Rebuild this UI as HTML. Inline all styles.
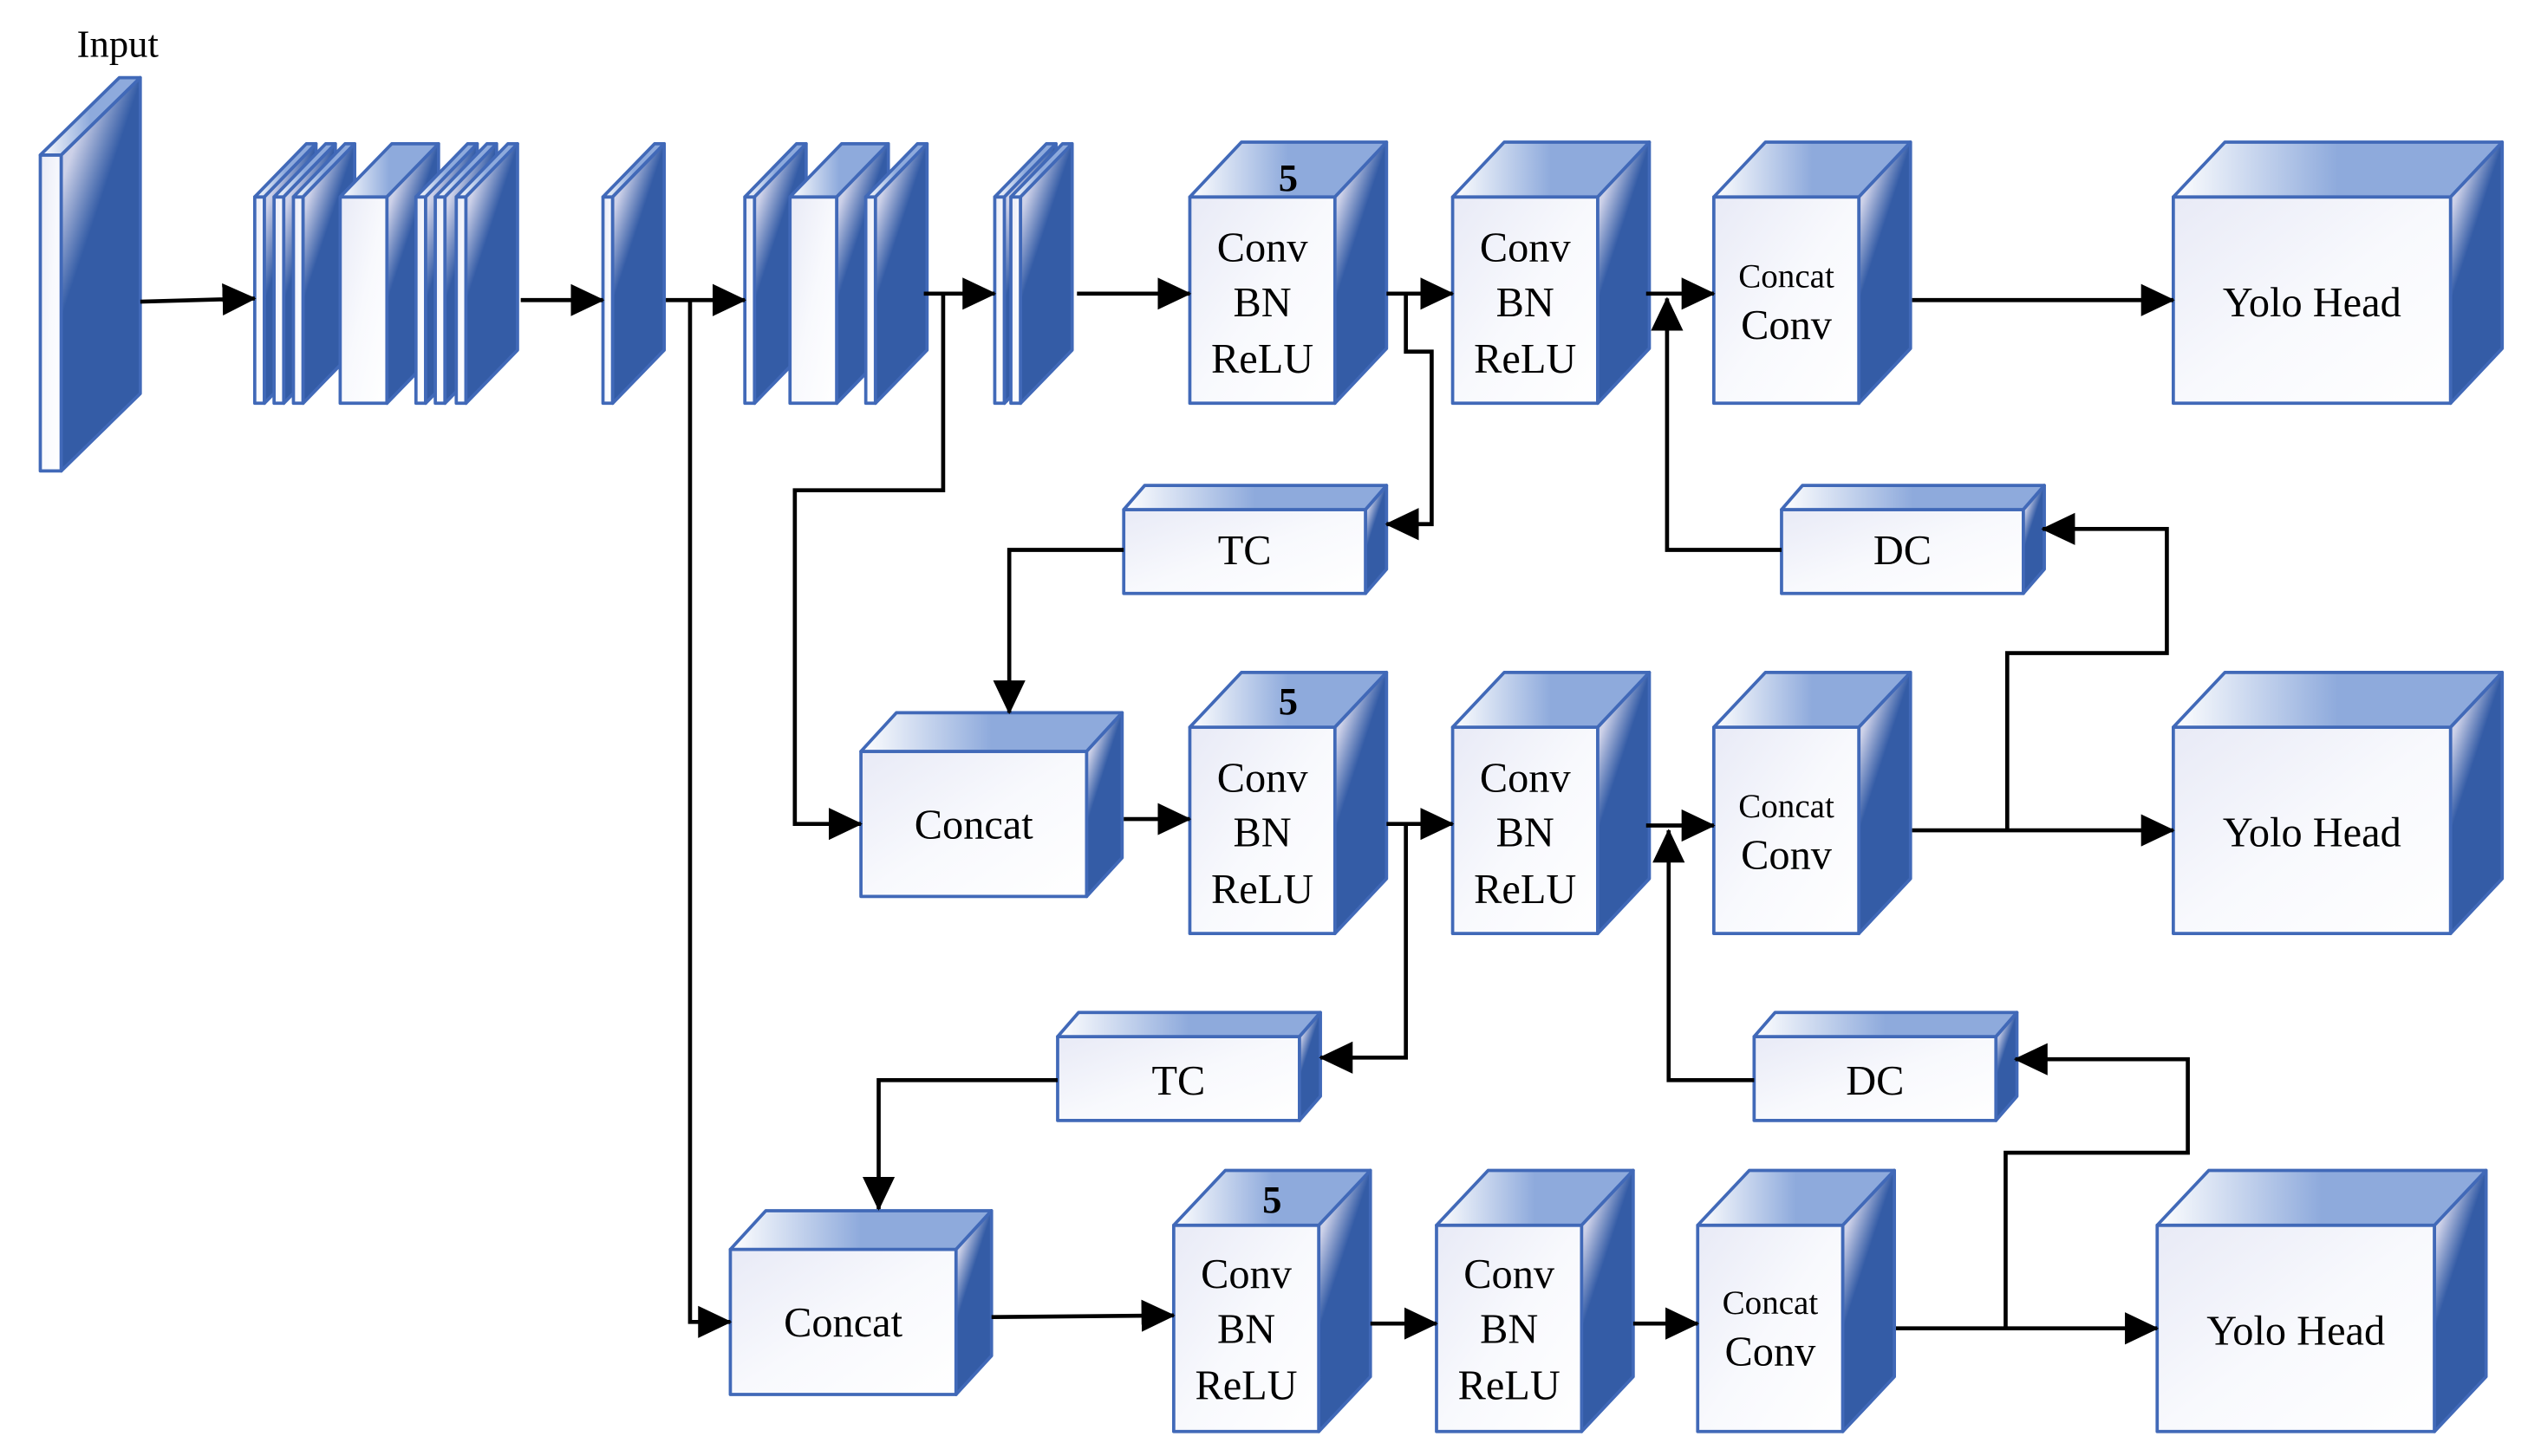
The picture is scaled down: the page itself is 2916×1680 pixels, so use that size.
<!DOCTYPE html>
<html><head><meta charset="utf-8"><style>
html,body{margin:0;padding:0;background:#fff}
svg{display:block}
.f{fill:url(#gf);stroke:#4169b8;stroke-width:2;stroke-linejoin:round}
.t{fill:url(#gt);stroke:#4169b8;stroke-width:2;stroke-linejoin:round}
.r{fill:url(#gr);stroke:#4169b8;stroke-width:2;stroke-linejoin:round}
.l{fill:none;stroke:#000;stroke-width:2.5}
.a{fill:none;stroke:#000;stroke-width:2.5;marker-end:url(#ar)}
text{font-family:"Liberation Serif",serif;fill:#000;text-anchor:middle}
</style></head><body>
<svg width="2916" height="1680" viewBox="0 0 1568 903" xmlns="http://www.w3.org/2000/svg">
<defs>
<linearGradient id="gf" x1="0" y1="0" x2="1" y2="1"><stop offset="0" stop-color="#e8eaf6"/><stop offset="0.5" stop-color="#f8f9fd"/><stop offset="1" stop-color="#ffffff"/></linearGradient>
<linearGradient id="gt" x1="0" y1="0" x2="1" y2="0"><stop offset="0" stop-color="#ffffff"/><stop offset="0.5" stop-color="#8eaadc"/><stop offset="1" stop-color="#8eaadc"/></linearGradient>
<linearGradient id="gr" x1="0" y1="0" x2="0.6" y2="1"><stop offset="0" stop-color="#d6d9ee"/><stop offset="0.2" stop-color="#cdd1e8"/><stop offset="0.45" stop-color="#345ca6"/><stop offset="1" stop-color="#345ca6"/></linearGradient>
<marker id="ar" markerUnits="userSpaceOnUse" markerWidth="22" markerHeight="20" refX="20" refY="10" orient="auto"><path d="M0,0 L21,10 L0,20 Z" fill="#000"/></marker>
<g id="conv"><rect class="f" x="0" y="0" width="90" height="128"/><polygon class="t" points="0,0 32,-34 122,-34 90,0"/><polygon class="r" points="90,0 122,-34 122,94 90,128"/></g>
<g id="yolo"><rect class="f" x="0" y="0" width="172" height="128"/><polygon class="t" points="0,0 32,-34 204,-34 172,0"/><polygon class="r" points="172,0 204,-34 204,94 172,128"/></g>
<g id="cat"><rect class="f" x="0" y="0" width="140" height="90"/><polygon class="t" points="0,0 22,-24 162,-24 140,0"/><polygon class="r" points="140,0 162,-24 162,66 140,90"/></g>
<g id="tc"><rect class="f" x="0" y="0" width="150" height="52"/><polygon class="t" points="0,0 13,-15 163,-15 150,0"/><polygon class="r" points="150,0 163,-15 163,37 150,52"/></g>
<g id="thin"><rect class="f" x="0" y="0" width="6" height="128"/><polygon class="t" points="0,0 32,-33 38,-33 6,0"/><polygon class="r" points="6,0 38,-33 38,95 6,128"/></g>
<g id="big"><rect class="f" x="0" y="0" width="29" height="128"/><polygon class="t" points="0,0 32,-33 61,-33 29,0"/><polygon class="r" points="29,0 61,-33 61,95 29,128"/></g>
</defs>

<text x="73" y="35" font-size="24">Input</text>
<g transform="translate(25,96)"><rect class="f" x="0" y="0" width="13" height="196"/><polygon class="t" points="0,0 49,-48 62,-48 13,0"/><polygon class="r" points="13,0 62,-48 62,148 13,196"/></g>

<use href="#thin" x="158" y="122"/><use href="#thin" x="170" y="122"/><use href="#thin" x="182" y="122"/>
<use href="#big" x="211" y="122"/>
<use href="#thin" x="258" y="122"/><use href="#thin" x="270" y="122"/><use href="#thin" x="283" y="122"/>
<use href="#thin" x="374" y="122"/>
<use href="#thin" x="462" y="122"/><use href="#big" x="490" y="122"/><use href="#thin" x="537" y="122"/>
<use href="#thin" x="617" y="122"/><use href="#thin" x="627" y="122"/>

<use href="#conv" x="738" y="122"/><use href="#conv" x="901" y="122"/><use href="#conv" x="1063" y="122"/><use href="#yolo" x="1348" y="122"/>
<use href="#tc" x="697" y="316"/><use href="#tc" x="1105" y="316"/>
<use href="#cat" x="534" y="466"/>
<use href="#conv" x="738" y="451"/><use href="#conv" x="901" y="451"/><use href="#conv" x="1063" y="451"/><use href="#yolo" x="1348" y="451"/>
<use href="#tc" x="656" y="643"/><use href="#tc" x="1088" y="643"/>
<use href="#cat" x="453" y="775"/>
<use href="#conv" x="728" y="760"/><use href="#conv" x="891" y="760"/><use href="#conv" x="1053" y="760"/><use href="#yolo" x="1338" y="760"/>

<g font-size="26">
<text x="799" y="118" font-weight="bold" font-size="24">5</text>
<text x="783" y="162">Conv</text><text x="783" y="196">BN</text><text x="783" y="231">ReLU</text>
<text x="946" y="162">Conv</text><text x="946" y="196">BN</text><text x="946" y="231">ReLU</text>
<text x="1108" y="178" font-size="21">Concat</text><text x="1108" y="210">Conv</text>
<text x="1434" y="196">Yolo Head</text>
<text x="772" y="350">TC</text><text x="1180" y="350">DC</text>

<text x="604" y="520">Concat</text>
<text x="799" y="443" font-weight="bold" font-size="24">5</text>
<text x="783" y="491">Conv</text><text x="783" y="525">BN</text><text x="783" y="560">ReLU</text>
<text x="946" y="491">Conv</text><text x="946" y="525">BN</text><text x="946" y="560">ReLU</text>
<text x="1108" y="507" font-size="21">Concat</text><text x="1108" y="539">Conv</text>
<text x="1434" y="525">Yolo Head</text>
<text x="731" y="679">TC</text><text x="1163" y="679">DC</text>

<text x="523" y="829">Concat</text>
<text x="789" y="752" font-weight="bold" font-size="24">5</text>
<text x="773" y="799">Conv</text><text x="773" y="833">BN</text><text x="773" y="868">ReLU</text>
<text x="936" y="799">Conv</text><text x="936" y="833">BN</text><text x="936" y="868">ReLU</text>
<text x="1098" y="815" font-size="21">Concat</text><text x="1098" y="847">Conv</text>
<text x="1424" y="834">Yolo Head</text>
</g>

<path class="a" d="M87,187 L158,185"/>
<path class="a" d="M323,186 L374,186"/>
<path class="a" d="M413,186 L462,186"/>
<path class="a" d="M428,186 L428,820 L453,820"/>
<path class="a" d="M573,182 L617,182"/>
<path class="a" d="M585,182 L585,304 L493,304 L493,511 L534,511"/>
<path class="a" d="M668,182 L738,182"/>
<path class="a" d="M860,182 L901,182"/>
<path class="a" d="M872,182 L872,218 L888,218 L888,325 L860,325"/>
<path class="a" d="M1021,182 L1063,182"/>
<path class="a" d="M1105,341 L1034,341 L1034,185"/>
<path class="a" d="M1186,186 L1348,186"/>
<path class="a" d="M697,341 L626,341 L626,442"/>

<path class="a" d="M697,508 L738,508"/>
<path class="a" d="M860,511 L901,511"/>
<path class="a" d="M872,511 L872,656 L819,656"/>
<path class="a" d="M1021,512 L1063,512"/>
<path class="a" d="M1088,670 L1035,670 L1035,515"/>
<path class="a" d="M1186,515 L1348,515"/>
<path class="a" d="M1245,515 L1245,405 L1344,405 L1344,328 L1267,328"/>
<path class="a" d="M656,670 L545,670 L545,750"/>

<path class="a" d="M615,817 L728,816"/>
<path class="a" d="M850,821 L891,821"/>
<path class="a" d="M1013,821 L1053,821"/>
<path class="a" d="M1176,824 L1338,824"/>
<path class="a" d="M1244,824 L1244,715 L1357,715 L1357,657 L1250,657"/>
</svg>
</body></html>
